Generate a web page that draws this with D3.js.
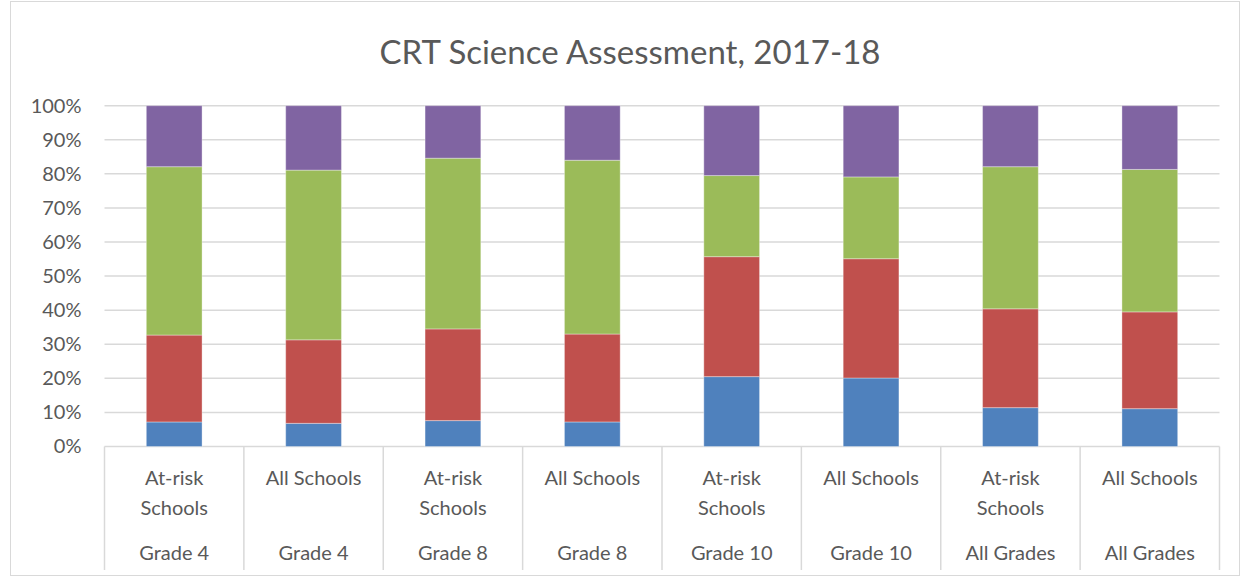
<!DOCTYPE html>
<html><head><meta charset="utf-8">
<script src="https://cdn.jsdelivr.net/npm/d3@7"></script>
<style>body{margin:0;background:#fff}svg{display:block}</style>
</head><body>
<svg id="c" width="1248" height="577"></svg>
<script>
const categories = ["At-risk Schools|Grade 4","All Schools|Grade 4","At-risk Schools|Grade 8","All Schools|Grade 8","At-risk Schools|Grade 10","All Schools|Grade 10","At-risk Schools|All Grades","All Schools|All Grades"];
const subLabels = [["At-risk","Schools"],["All Schools"],["At-risk","Schools"],["All Schools"],["At-risk","Schools"],["All Schools"],["At-risk","Schools"],["All Schools"]];
const groupLabels = ["Grade 4","Grade 4","Grade 8","Grade 8","Grade 10","Grade 10","All Grades","All Grades"];
const seriesNames = ["Below Basic","Basic","Proficient","Advanced"];
const belowBasic = [7.2, 6.8, 7.6, 7.2, 20.5, 20.1, 11.4, 11.1];
const basic      = [25.5, 24.5, 26.9, 25.8, 35.2, 35.0, 29.0, 28.4];
const proficient = [49.4, 49.8, 50.1, 51.0, 23.8, 24.0, 41.7, 41.8];
const advanced   = [17.9, 18.9, 15.4, 16.0, 20.5, 20.9, 17.9, 18.7];
const yTicks = [0,10,20,30,40,50,60,70,80,90,100];
const colors = ["#4F81BD","#C0504D","#9BBB59","#8064A2"];
const title = "CRT Science Assessment, 2017-18";

const svg = d3.select("#c");
const font = "Lato, 'Open Sans', sans-serif";
const txt = "#595959";
// outer border
svg.append("rect").attr("x",10.5).attr("y",1.5).attr("width",1229).attr("height",574)
  .attr("fill","none").attr("stroke","#d9d9d9");

const m = {l:104.5, r:1219.5, t:105.7, b:446.5};
const x = d3.scaleBand().domain(categories).range([m.l,m.r]).paddingInner(0.6).paddingOuter(0.3);
const y = d3.scaleLinear().domain([0,100]).range([m.b,m.t]);

// gridlines
svg.append("g").selectAll("line").data(yTicks).join("line")
  .attr("x1",m.l).attr("x2",m.r).attr("y1",d=>y(d)).attr("y2",d=>y(d))
  .attr("stroke","#d9d9d9").attr("stroke-width",1.5);

// y labels
const yAxis = svg.append("g").attr("transform",`translate(${m.l},0)`)
  .call(d3.axisLeft(y).tickValues(yTicks).tickFormat(d=>d+"%").tickSize(0).tickPadding(23));
yAxis.select(".domain").remove();
yAxis.selectAll("text").attr("font-family",font).attr("font-size",20).attr("fill",txt);

// stacked data
const rows = categories.map((c,i)=>({cat:c, "Below Basic":belowBasic[i], "Basic":basic[i], "Proficient":proficient[i], "Advanced":advanced[i]}));
const stack = d3.stack().keys(seriesNames)(rows);
svg.append("g").selectAll("g").data(stack).join("g").attr("fill",(d,i)=>colors[i])
  .selectAll("rect").data(d=>d).join("rect")
  .attr("x",d=>x(d.data.cat)).attr("width",x.bandwidth())
  .attr("y",d=>y(d[1])).attr("height",d=>y(d[0])-y(d[1]))
  .attr("stroke","#ffffff").attr("stroke-opacity",0.35).attr("stroke-width",1);

// category dividers
const bounds = d3.range(categories.length+1).map(i=>m.l + i*(m.r-m.l)/categories.length);
svg.append("g").selectAll("line").data(bounds).join("line")
  .attr("x1",d=>d).attr("x2",d=>d).attr("y1",m.b).attr("y2",570)
  .attr("stroke","#d9d9d9").attr("stroke-width",1.5);

// category labels
const cx = d=>x(d)+x.bandwidth()/2;
const lab = svg.append("g").attr("font-family",font).attr("font-size",20).attr("fill",txt).attr("text-anchor","middle");
categories.forEach((c,i)=>{
  subLabels[i].forEach((s,j)=>{
    lab.append("text").attr("x",cx(c)).attr("y",485+j*30).text(s);
  });
  lab.append("text").attr("x",cx(c)).attr("y",560).text(groupLabels[i]);
});

// title
svg.append("text").attr("x",630).attr("y",64).attr("text-anchor","middle")
  .attr("font-family",font).attr("font-size",33).attr("fill",txt).text(title);
</script>
</body></html>
